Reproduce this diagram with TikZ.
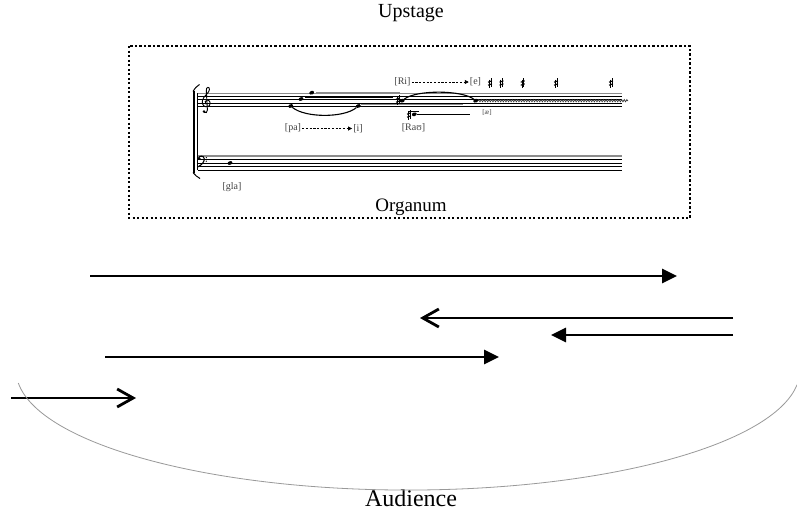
\documentclass[tikz,border=0pt]{standalone}
\usepackage{fontspec}
\setmainfont{Liberation Serif}
\usetikzlibrary{arrows.meta,decorations.pathmorphing,shapes.geometric}
\begin{document}
\begin{tikzpicture}[x=1pt,y=-1pt,
  bigarrow/.style={line width=2.8pt},
  filledhead/.style={-{Triangle[length=15pt,width=14pt]}},
  openhead/.style={-{Straight Barb[length=16pt,width=18pt]}},
  staffline/.style={line width=0.6pt},
  topline/.style={line width=1.6pt,black!45},
  durgray/.style={line width=2.2pt,black!45},
  notehead/.style={ellipse,fill,inner sep=0pt,minimum width=5pt,minimum height=3.6pt,rotate=20},
  lbl/.style={inner sep=1pt,text=black!75,font=\fontsize{10}{12}\selectfont},
  dasharr/.style={line width=0.7pt,dash pattern=on 2.2pt off 1.5pt,-{Triangle[length=4pt,width=4pt]}},
  slur/.style={line width=1.1pt},
  arcline/.style={line width=0.8pt,black!40},
  dotbox/.style={line width=2.3pt,dash pattern=on 2.3pt off 2.2pt},
  title/.style={inner sep=0pt},
  cleffline/.style={line width=0.9pt,line cap=round},
  sharpsign/.pic={
    \draw[line width=0.45pt] (-0.8,-3.5) -- (-0.8,5) (0.8,-5) -- (0.8,3.5);
    \draw[line width=1.1pt] (-2,-0.8) -- (2,-2.2) (-2,2.2) -- (2,0.8);
  }
]
\fill[white] (0,0) rectangle (797,514);
\useasboundingbox (0,0) rectangle (797,514);

% titles
\node[title,font=\fontsize{20}{24}\selectfont] (upstage) at (411,13) {Upstage};
\node[title,font=\fontsize{19}{23}\selectfont] (organum) at (411,207) {Organum};
\node[title,font=\fontsize{24}{28}\selectfont] (audience) at (411,498) {Audience};

% dotted box
\draw[dotbox] (129,46) rectangle (690,218);

% bracket and system line
\draw[line width=2pt] (193.5,91) -- (193.5,173);
\draw[line width=1pt] (193,91.5) .. controls (195,88) and (197,86) .. (199.5,84.5);
\draw[line width=1pt] (193,172.5) .. controls (195,175) and (197,177) .. (200,178.5);
\draw[line width=0.6pt] (197.5,93) -- (197.5,170);

% treble staff
\foreach \y in {96.5,99.7,102.9,106.1} \draw[staffline] (197.5,\y) -- (622,\y);
\draw[topline] (197.5,93.3) -- (622,93.3);
% bass staff
\foreach \y in {159.5,163,166.5,170} \draw[staffline] (197.5,\y) -- (622,\y);
\draw[topline] (197.5,156) -- (622,156);

% treble clef (drawn)
\draw[cleffline] (204.2,112.3) .. controls (205.5,113.5) and (207.6,112.5) .. (207.4,110)
  -- (206.3,90.5) .. controls (206,87) and (209.5,86) .. (209.5,89.5)
  .. controls (209.5,93) and (203,96) .. (202.3,101)
  .. controls (201.8,105) and (204.5,107.3) .. (207.5,106.8)
  .. controls (211,106.2) and (211,100.2) .. (207.6,100)
  .. controls (205.2,99.9) and (204.3,102.5) .. (205.8,104);
\fill (204,111.6) circle (1.4);
% bass clef (drawn)
\fill (199.3,158.6) circle (1.4);
\draw[line width=1.1pt,line cap=round] (198.3,158.4) .. controls (199,155.3) and (204.2,155.2) .. (204.3,159)
  .. controls (204.3,162.3) and (201.5,165) .. (198,166.8);
\fill (206.3,157.7) circle (0.7) (206.3,161.2) circle (0.7);

% duration lines
\draw[durgray] (316,92.7) -- (400,92.7);
\draw[line width=0.6pt] (305,97.2) -- (393,97.2);
\draw[line width=1.5pt,black!45] (361,104.5) -- (463,104.5);
\draw[line width=0.7pt] (417,114.3) -- (470,114.3);
\draw[line width=0.6pt] (408,111.5) -- (419,111.5);
\draw[line width=0.7pt,black!80,decorate,decoration={zigzag,segment length=2.6pt,amplitude=1.1pt}] (478,100.7) -- (628,100.7);
\draw[line width=0.5pt,black!45,double=white,double distance=0.5pt] (233,162.5) -- (390,162.5);

% note heads
\node[notehead] (nA) at (290.7,106) {};
\node[notehead] (nB) at (358.3,106) {};
\node[notehead] (nC) at (301,99) {};
\node[notehead] (nD) at (311.7,92.7) {};
\node[notehead] (nE) at (402.3,100.7) {};
\node[notehead] (nF) at (475.7,100.7) {};
\node[notehead] (nG) at (414.3,114.3) {};
\node[notehead] (nH) at (230,163) {};

% slurs
\draw[slur] (nA) .. controls (305,118) and (344,118) .. (nB);
\draw[slur] (nE) .. controls (416,89.8) and (462,89.8) .. (nF);

% sharps
\pic at (398,100) {sharpsign};
\pic at (409,115) {sharpsign};
\foreach \x in {490,501.5,522.7,556,611} \pic at (\x,83) {sharpsign};

% labels
\node[lbl] (ri) at (402.5,82) {[Ri]};
\node[lbl] (e) at (475.5,82) {[e]};
\node[lbl] (pa) at (293,128.5) {[pa]};
\node[lbl] (i) at (358,128.5) {[i]};
\node[lbl] (rau) at (413.5,128) {[Raʊ]};
\node[lbl,font=\fontsize{7}{8}\selectfont] (ae) at (487,112.5) {[æ]};
\node[lbl] (gla) at (232,187) {[gla]};
\draw[dasharr] (ri) -- (e);
\draw[dasharr] (pa) -- (i);

% motion arrows
\coordinate (a1s) at (90,276);   \coordinate (a1e) at (677,276);
\coordinate (a2s) at (733,318);  \coordinate (a2e) at (420,318);
\coordinate (a3s) at (733,335);  \coordinate (a3e) at (551,335);
\coordinate (a4s) at (105,357);  \coordinate (a4e) at (499,357);
\coordinate (a5s) at (11,398);   \coordinate (a5e) at (136,398);
\draw[bigarrow,filledhead] (a1s) -- (a1e);
\draw[bigarrow,openhead] (a2s) -- (a2e);
\draw[bigarrow,filledhead] (a3s) -- (a3e);
\draw[bigarrow,filledhead] (a4s) -- (a4e);
\draw[bigarrow,openhead] (a5s) -- (a5e);

% audience arc
\draw[arcline] (18.3,383) arc[start angle=173.8,end angle=7,x radius=392,y radius=120];
\end{tikzpicture}
\end{document}
